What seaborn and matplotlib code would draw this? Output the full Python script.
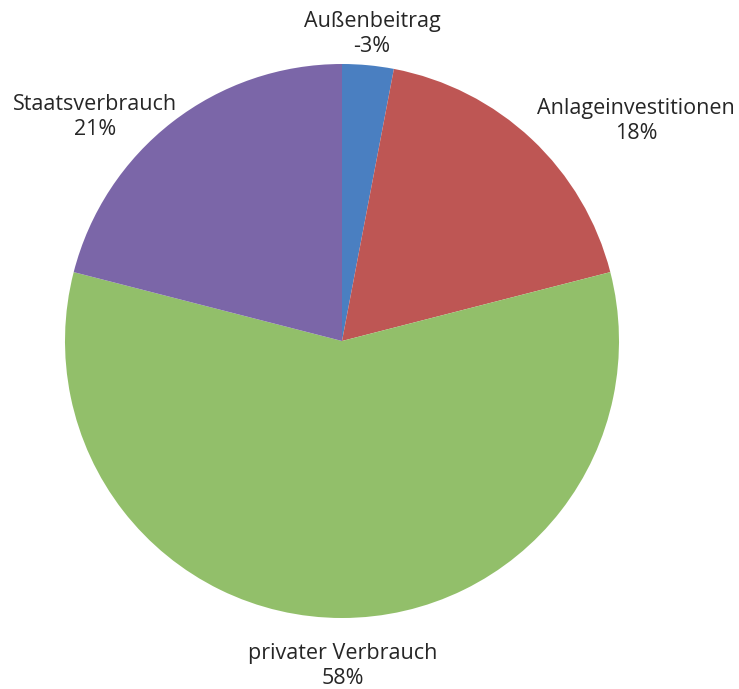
import matplotlib
matplotlib.use("Agg")
import matplotlib.pyplot as plt
import seaborn as sns

sns.set_theme(style="white")
plt.rcParams['font.family'] = ['Open Sans', 'DejaVu Sans']

categories = ['Außenbeitrag', 'Anlageinvestitionen', 'privater Verbrauch', 'Staatsverbrauch']
shares = [-3, 18, 58, 21]
colors = ['#4a7fc1', '#be5654', '#92bf6a', '#7b66a8']

W, H = 739, 689
cx, cy, r = 342, 341, 277  # pie centre and radius in pixels

fig = plt.figure(figsize=(W / 100, H / 100), dpi=100)
ax = fig.add_axes([0, 0, 1, 1])
ax.pie([abs(v) for v in shares], colors=colors, startangle=90, counterclock=False,
       radius=1, center=(0, 0), wedgeprops=dict(linewidth=0))
ax.set_xlim(-cx / r, (W - cx) / r)
ax.set_ylim(-(H - cy) / r, cy / r)
ax.set_aspect('equal')
ax.axis('off')

# label anchor points (pixels, centre of the two-line block)
label_px = [(372, 34), (636, 121), (343, 666), (95, 117)]
for name, val, (px, py) in zip(categories, shares, label_px):
    ax.text((px - cx) / r, (cy - py) / r, f"{name}\n{val}%", ha='center', va='center',
            fontsize=15.5, color='#262626', linespacing=1.3)

fig.savefig('out.png', dpi=100)
